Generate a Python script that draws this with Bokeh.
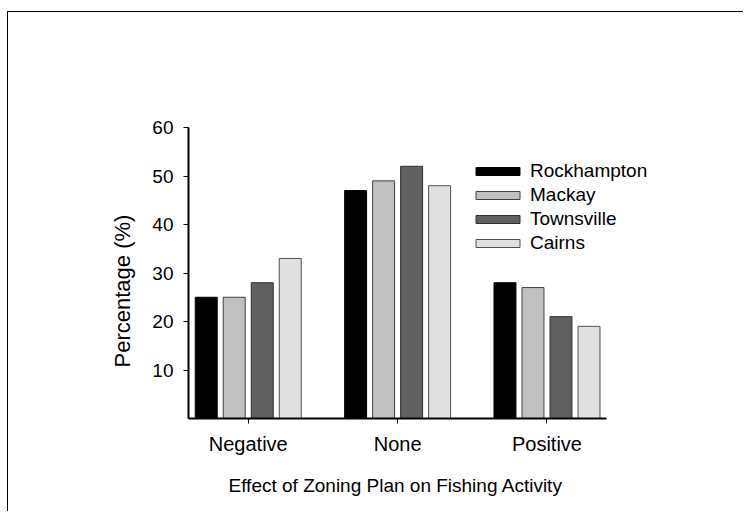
import numpy as np
from bokeh.plotting import figure
from bokeh.models import ColumnDataSource, FixedTicker, Legend, LegendItem, Range1d, Title
from bokeh.embed import file_html
from bokeh.resources import INLINE

categories = ["Negative", "None", "Positive"]
cities = ["Rockhampton", "Mackay", "Townsville", "Cairns"]
rockhampton = [25, 47, 28]
mackay = [25, 49, 27]
townsville = [28, 52, 21]
cairns = [33, 48, 19]
series = [rockhampton, mackay, townsville, cairns]
y_ticks = [10, 20, 30, 40, 50, 60]

fill_colors = ["#000000", "#c0c0c0", "#606060", "#e0e0e0"]
line_colors = ["#000000", "#404040", "#303030", "#505050"]
FONT = "Liberation Sans"

p = figure(width=736, height=500,
           x_range=Range1d(-0.4, 2.76), y_range=Range1d(0, 60),
           output_backend="svg", toolbar_location=None,
           min_border_left=180, min_border_right=84,
           min_border_top=115, min_border_bottom=94)
p.styles = {"border-left": "1px solid black", "border-top": "1px solid black",
            "margin-top": "11px", "margin-left": "7px"}
p.background_fill_color = "white"
p.border_fill_color = "white"
p.outline_line_color = None
p.xgrid.visible = False
p.ygrid.visible = False

pitch = 0.1875
bw = 0.147
items = []
for i, (name, vals) in enumerate(zip(cities, series)):
    src = ColumnDataSource(dict(x=[k + (i - 1.5) * pitch for k in range(len(categories))], top=vals))
    r = p.vbar(x="x", top="top", bottom=0, width=bw, source=src,
               fill_color=fill_colors[i], line_color=line_colors[i], line_width=1)
    items.append(LegendItem(label=name, renderers=[r]))

legend = Legend(items=items, location=(282, 164), padding=0, margin=0,
                spacing=2, glyph_width=55, glyph_height=10, label_standoff=5,
                label_text_font=FONT, label_text_font_size="19px",
                label_text_color="black",
                border_line_color=None, background_fill_alpha=0)
p.add_layout(legend)

# y axis
ya = p.yaxis[0]
ya.ticker = FixedTicker(ticks=y_ticks)
ya.minor_tick_line_color = None
ya.major_tick_in = 0
ya.major_tick_out = 5
ya.axis_line_width = 2
ya.major_tick_line_width = 1
ya.major_label_standoff = 10
ya.major_label_text_font = FONT
ya.major_label_text_font_size = "19px"
ya.major_label_text_color = "black"

# x axis
xa = p.xaxis[0]
xa.bounds = (-0.4, 2.4)
xa.ticker = FixedTicker(ticks=list(range(len(categories))))
xa.major_label_overrides = {i: c for i, c in enumerate(categories)}
xa.minor_tick_line_color = None
xa.major_tick_in = 0
xa.major_tick_out = 5
xa.axis_line_width = 2
xa.major_label_standoff = 9
xa.major_label_text_font = FONT
xa.major_label_text_font_size = "20px"
xa.major_label_text_color = "black"

p.add_layout(Title(text="Percentage (%)", align="left", offset=51,
                   text_font=FONT, text_font_size="22px", text_font_style="normal",
                   text_color="black", standoff=29), "left")
p.add_layout(Title(text="Effect of Zoning Plan on Fishing Activity", align="left",
                   offset=40, text_font=FONT, text_font_size="19px",
                   text_font_style="normal", text_color="black", standoff=30), "below")

open("out.html", "w").write(file_html(p, INLINE))
